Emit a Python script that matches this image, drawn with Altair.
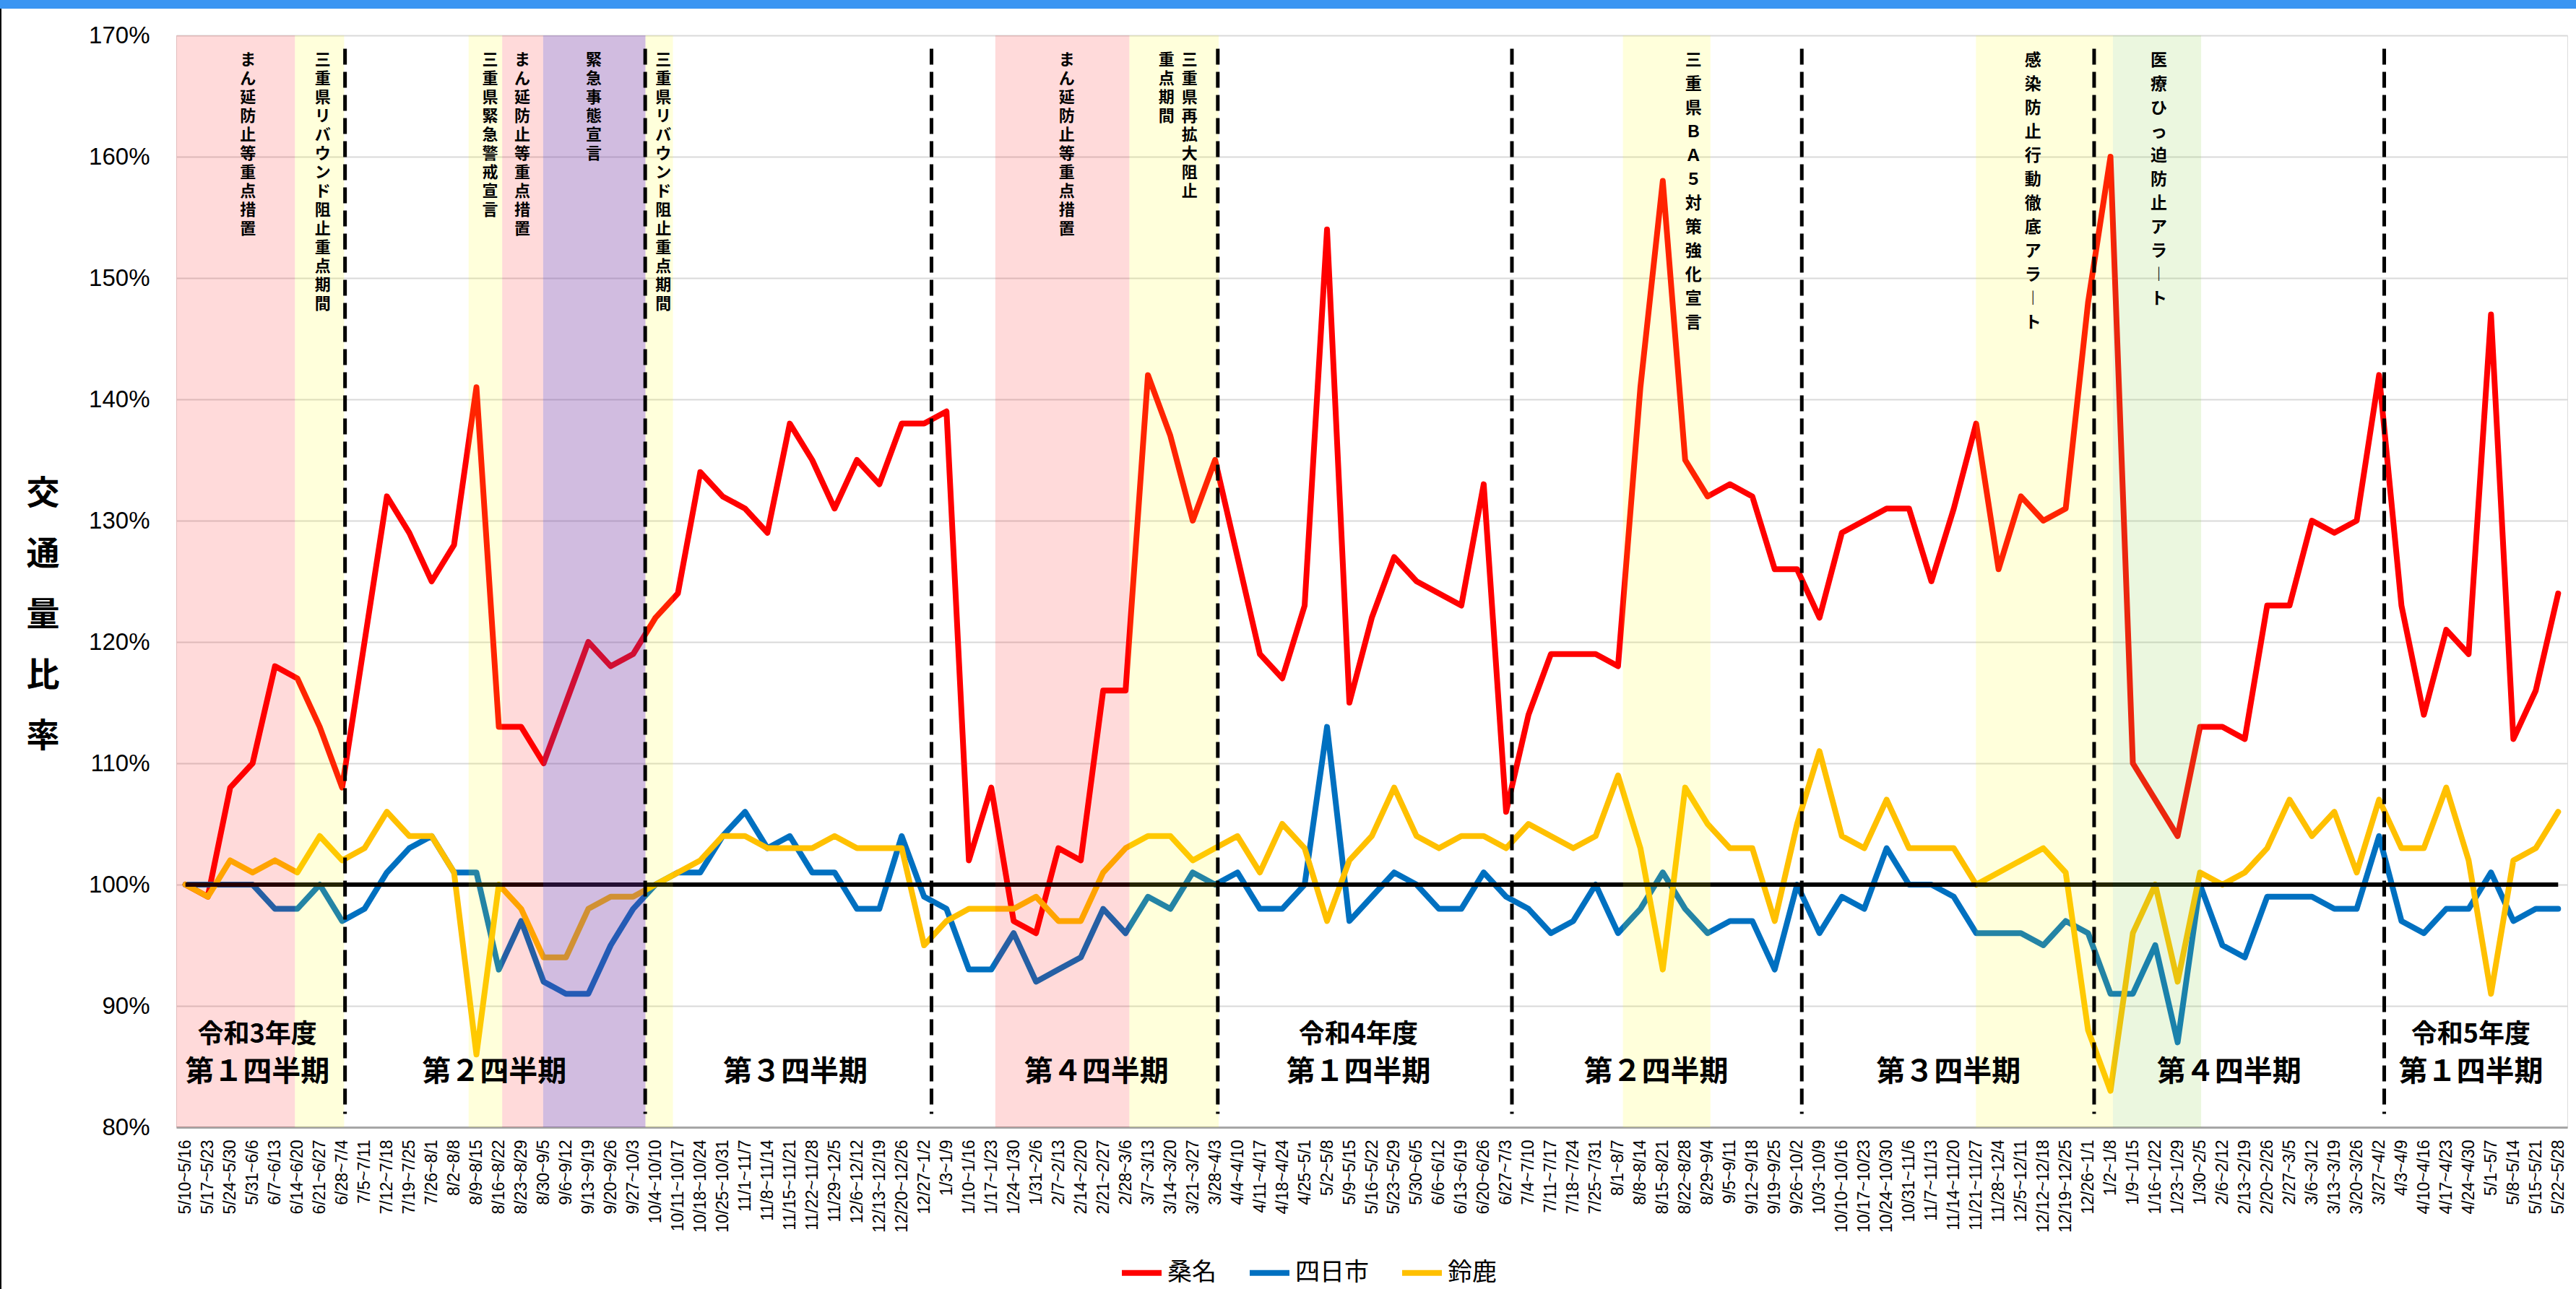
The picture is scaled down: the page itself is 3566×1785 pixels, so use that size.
import altair as alt
import pandas as pd

week_labels = [
    "5/10~5/16", "5/17~5/23", "5/24~5/30", "5/31~6/6", "6/7~6/13", "6/14~6/20", "6/21~6/27",
    "6/28~7/4", "7/5~7/11", "7/12~7/18", "7/19~7/25", "7/26~8/1", "8/2~8/8", "8/9~8/15",
    "8/16~8/22", "8/23~8/29", "8/30~9/5", "9/6~9/12", "9/13~9/19", "9/20~9/26", "9/27~10/3",
    "10/4~10/10", "10/11~10/17", "10/18~10/24", "10/25~10/31", "11/1~11/7", "11/8~11/14",
    "11/15~11/21", "11/22~11/28", "11/29~12/5", "12/6~12/12", "12/13~12/19", "12/20~12/26",
    "12/27~1/2", "1/3~1/9", "1/10~1/16", "1/17~1/23", "1/24~1/30", "1/31~2/6", "2/7~2/13",
    "2/14~2/20", "2/21~2/27", "2/28~3/6", "3/7~3/13", "3/14~3/20", "3/21~3/27", "3/28~4/3",
    "4/4~4/10", "4/11~4/17", "4/18~4/24", "4/25~5/1", "5/2~5/8", "5/9~5/15", "5/16~5/22",
    "5/23~5/29", "5/30~6/5", "6/6~6/12", "6/13~6/19", "6/20~6/26", "6/27~7/3", "7/4~7/10",
    "7/11~7/17", "7/18~7/24", "7/25~7/31", "8/1~8/7", "8/8~8/14", "8/15~8/21", "8/22~8/28",
    "8/29~9/4", "9/5~9/11", "9/12~9/18", "9/19~9/25", "9/26~10/2", "10/3~10/9", "10/10~10/16",
    "10/17~10/23", "10/24~10/30", "10/31~11/6", "11/7~11/13", "11/14~11/20", "11/21~11/27",
    "11/28~12/4", "12/5~12/11", "12/12~12/18", "12/19~12/25", "12/26~1/1", "1/2~1/8",
    "1/9~1/15", "1/16~1/22", "1/23~1/29", "1/30~2/5", "2/6~2/12", "2/13~2/19", "2/20~2/26",
    "2/27~3/5", "3/6~3/12", "3/13~3/19", "3/20~3/26", "3/27~4/2", "4/3~4/9", "4/10~4/16",
    "4/17~4/23", "4/24~4/30", "5/1~5/7", "5/8~5/14", "5/15~5/21", "5/22~5/28",
]

kuwana = [
    100, 99, 108, 110, 118, 117, 113, 108, 120, 132, 129, 125, 128, 141, 113, 113, 110, 115, 120, 118, 119,
    122, 124, 134, 132, 131, 129, 138, 135, 131, 135, 133, 138, 138, 139, 102, 108, 97, 96, 103, 102, 116,
    116, 142, 137, 130, 135, 127, 119, 117, 123, 154, 115, 122, 127, 125, 124, 123, 133, 106, 114, 119, 119,
    119, 118, 141, 158, 135, 132, 133, 132, 126, 126, 122, 129, 130, 131, 131, 125, 131, 138, 126, 132, 130,
    131, 148, 160, 110, 107, 104, 113, 113, 112, 123, 123, 130, 129, 130, 142, 123, 114, 121, 119, 147, 112, 116, 124,
]
yokkaichi = [
    100, 100, 100, 100, 98, 98, 100, 97, 98, 101, 103, 104, 101, 101, 93, 97, 92, 91, 91, 95, 98,
    100, 101, 101, 104, 106, 103, 104, 101, 101, 98, 98, 104, 99, 98, 93, 93, 96, 92, 93, 94, 98,
    96, 99, 98, 101, 100, 101, 98, 98, 100, 113, 97, 99, 101, 100, 98, 98, 101, 99, 98, 96, 97,
    100, 96, 98, 101, 98, 96, 97, 97, 93, 100, 96, 99, 98, 103, 100, 100, 99, 96, 96, 96, 95,
    97, 96, 91, 91, 95, 87, 100, 95, 94, 99, 99, 99, 98, 98, 104, 97, 96, 98, 98, 101, 97, 98, 98,
]
suzuka = [
    100, 99, 102, 101, 102, 101, 104, 102, 103, 106, 104, 104, 101, 86, 100, 98, 94, 94, 98, 99, 99,
    100, 101, 102, 104, 104, 103, 103, 103, 104, 103, 103, 103, 95, 97, 98, 98, 98, 99, 97, 97, 101,
    103, 104, 104, 102, 103, 104, 101, 105, 103, 97, 102, 104, 108, 104, 103, 104, 104, 103, 105, 104, 103,
    104, 109, 103, 93, 108, 105, 103, 103, 97, 105, 111, 104, 103, 107, 103, 103, 103, 100, 101, 102, 103,
    101, 88, 83, 96, 100, 92, 101, 100, 101, 103, 107, 104, 106, 101, 107, 103, 103, 108, 102, 91, 102, 103, 106,
]

cities = ["桑名", "四日市", "鈴鹿"]
city_colors = ["#FF0000", "#0070C0", "#FFC000"]

# shaded periods (in week-index units)
shade_start = [-0.41, 4.89, 12.65, 14.15, 15.98, 20.55, 36.18, 42.17, 64.22, 79.99, 86.11]
shade_end = [4.89, 7.09, 14.15, 15.98, 20.55, 21.78, 42.17, 46.16, 68.13, 86.11, 90.05]
shade_kind = ["pink", "yellow", "yellow", "pink", "purple", "yellow", "pink", "yellow", "yellow", "yellow", "green"]

quarter_breaks = [7.13, 20.54, 33.33, 46.12, 59.26, 72.21, 85.27, 98.23]

note_pos_a = [2.79, 6.13, 13.61, 15.05, 18.24, 21.35, 39.37, 44.86, 43.83]
note_text_a = ["まん延防止等重点措置", "三重県リバウンド阻止重点期間", "三重県緊急警戒宣言",
               "まん延防止等重点措置", "緊急事態宣言", "三重県リバウンド阻止重点期間",
               "まん延防止等重点措置", "三重県再拡大阻止", "重点期間"]
note_pos_b = [67.37, 82.54, 88.16]
note_text_b = ["三重県ＢＡ５対策強化宣言", "感染防止行動徹底アラ︱ト", "医療ひっ迫防止アラ︱ト"]

quarter_pos = [3.21, 13.8, 27.25, 40.7, 52.4, 65.7, 78.76, 91.3, 102.1]
quarter_text = ["第１四半期", "第２四半期", "第３四半期", "第４四半期", "第１四半期",
                "第２四半期", "第３四半期", "第４四半期", "第１四半期"]
year_pos = [3.21, 52.4, 102.1]
year_text = ["令和3年度", "令和4年度", "令和5年度"]

# ---------------- tables ----------------
rows = []
for name, series in zip(cities, [kuwana, yokkaichi, suzuka]):
    for i, v in enumerate(series):
        rows.append({"idx": i, "label": week_labels[i], "city": name, "value": v})
df = pd.DataFrame(rows)

shade_df = pd.DataFrame({"start": shade_start, "end": shade_end, "kind": shade_kind})
break_df = pd.DataFrame({"pos": quarter_breaks})
note_a_df = pd.DataFrame({"pos": note_pos_a, "txt": ["\n".join(list(t)) for t in note_text_a]})
note_b_df = pd.DataFrame({"pos": note_pos_b, "txt": ["\n".join(list(t)) for t in note_text_b]})
q_df = pd.DataFrame({"pos": quarter_pos, "txt": quarter_text})
y_df = pd.DataFrame({"pos": year_pos, "txt": year_text})
one = pd.DataFrame({"a": [0]})

W, H = 3310, 1512
xs = alt.Scale(domain=[-0.41, 106.41], nice=False, zero=False)
ys = alt.Scale(domain=[80, 170], nice=False, zero=False)

label_expr = "[" + ",".join("'" + l + "'" for l in week_labels) + "][datum.value]"

x_axis = alt.Axis(values=list(range(len(week_labels))), labelExpr=label_expr, labelAngle=-90,
                  labelPadding=17, ticks=False, grid=False, domainColor="#A6A6A6", domainWidth=3,
                  labelFontSize=23, labelFont="Liberation Sans", labelColor="black",
                  labelOverlap=False, labelFlush=False, labelBound=False, title=None)
y_axis = alt.Axis(values=list(range(80, 171, 10)), labelExpr="datum.value + '%'",
                  labelFont="Liberation Sans", labelFontSize=33, labelColor="black", labelPadding=37,
                  ticks=False, domain=False, gridColor="#D9D9D9", gridWidth=2,
                  labelOverlap=False, labelFlush=False,
                  title=["交", "通", "量", "比", "率"], titleAngle=0, titleX=-185, titleY=612,
                  titleBaseline="top", titleAlign="center", titleFontSize=46, titleFontWeight="bold",
                  titleFont="Noto Sans CJK JP", titleLineHeight=84, titleColor="black")


def xq(field):
    return alt.X(field, type="quantitative", scale=xs, axis=x_axis)


def xd(v):
    return alt.XDatum(v, type="quantitative", scale=xs, axis=x_axis)


def yd(v):
    return alt.YDatum(v, type="quantitative", scale=ys, axis=y_axis)


lines = alt.Chart(df).mark_line(strokeWidth=8, strokeJoin="round", strokeCap="round").encode(
    x=xq("idx"),
    y=alt.Y("value:Q", scale=ys, axis=y_axis),
    color=alt.Color("city:N", scale=alt.Scale(domain=cities, range=city_colors),
                    legend=alt.Legend(orient="none", legendX=1305, legendY=1682, direction="horizontal",
                                      columns=3, title=None, symbolType="stroke", symbolStrokeWidth=8,
                                      symbolSize=3025, labelFontSize=34, labelFont="Noto Sans CJK JP",
                                      labelOffset=4, columnPadding=30, padding=0, labelColor="black")),
    order="idx:Q",
)

base_line = alt.Chart(one).mark_rule(color="black", strokeWidth=6).encode(
    x=xd(0),
    x2=alt.X2Datum(106),
    y=yd(100),
)

shade_styles = {"pink": ("#FF0000", 0.145), "yellow": ("#FFFF00", 0.14),
                "purple": ("#7030A0", 0.32), "green": ("#92D050", 0.18)}
shades = []
for kind, (col, op) in shade_styles.items():
    shades.append(
        alt.Chart(shade_df).transform_filter(alt.datum.kind == kind).mark_rect(color=col, opacity=op).encode(
            x=xq("start"),
            x2="end:Q",
            y=yd(170),
            y2=alt.Y2Datum(80),
        )
    )

breaks = alt.Chart(break_df).mark_rule(color="black", strokeWidth=5, strokeDash=[22, 10]).encode(
    x=xq("pos"),
    y=yd(168.9),
    y2=alt.Y2Datum(81.1),
)

notes_a = alt.Chart(note_a_df).mark_text(lineBreak="\n", lineHeight=26, baseline="top", align="center",
                                         font="Noto Sans CJK JP", fontWeight="bold", fontSize=22,
                                         color="black").encode(
    x=xq("pos"),
    y=yd(168.6),
    text="txt:N",
)
notes_b = alt.Chart(note_b_df).mark_text(lineBreak="\n", lineHeight=33, baseline="top", align="center",
                                         font="Noto Sans CJK JP", fontWeight="bold", fontSize=23,
                                         color="black").encode(
    x=xq("pos"),
    y=yd(168.6),
    text="txt:N",
)

q_text = alt.Chart(q_df).mark_text(baseline="middle", align="center", font="Noto Sans CJK JP",
                                   fontWeight="bold", fontSize=40, color="black").encode(
    x=xq("pos"),
    y=yd(84.5),
    text="txt:N",
)
yr_text = alt.Chart(y_df).mark_text(baseline="middle", align="center", font="Noto Sans CJK JP",
                                    fontWeight="bold", fontSize=36, color="black").encode(
    x=xq("pos"),
    y=yd(87.6),
    text="txt:N",
)

top_bar = alt.Chart(one).mark_rect(color="#3A95F2").encode(
    x=alt.value(-244), x2=alt.value(3322), y=alt.value(-49), y2=alt.value(-37))
left_edge = alt.Chart(one).mark_rule(color="black", strokeWidth=2).encode(
    x=alt.value(-243), y=alt.value(-37), y2=alt.value(1736))

chart = alt.layer(lines, base_line, *shades, breaks, notes_a, notes_b, q_text, yr_text, top_bar, left_edge).properties(
    width=W, height=H,
    autosize=alt.AutoSizeParams(type="none"),
    padding={"left": 244, "top": 49, "right": 12, "bottom": 224},
).configure_view(stroke="black", strokeWidth=3).configure(background="white")

chart.save("out.html", embed_options={"renderer": "svg", "actions": False})
